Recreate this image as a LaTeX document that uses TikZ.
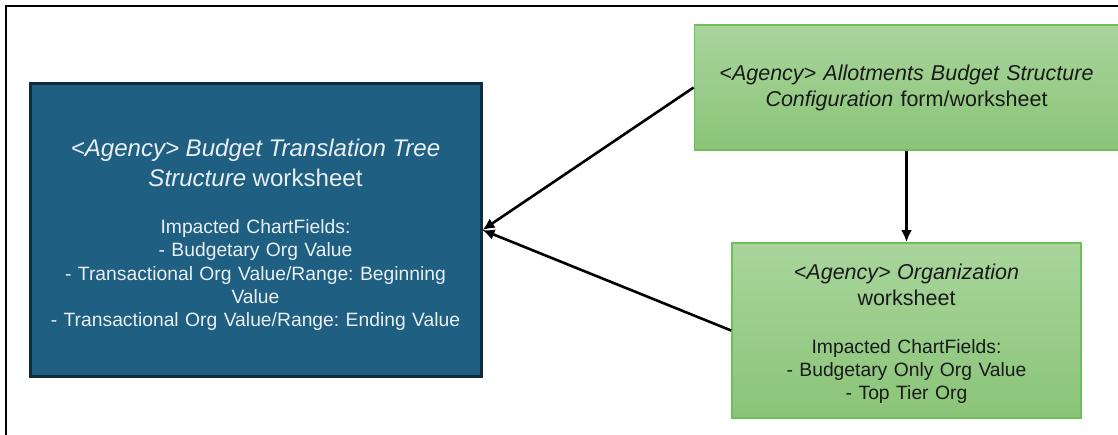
\documentclass[tikz,border=0pt]{standalone}
\usepackage{fontspec}
\setmainfont{Liberation Sans}
\usetikzlibrary{arrows.meta,positioning}
\frenchspacing

\definecolor{treeblue}{HTML}{1F5F82}
\definecolor{treeline}{HTML}{0F2F40}
\definecolor{treetext}{HTML}{E9EFF3}
\definecolor{greentop}{HTML}{A9D59C}
\definecolor{greenbot}{HTML}{8AC478}
\definecolor{greenline}{HTML}{6DBF57}
\definecolor{greentext}{HTML}{1A1A1A}

\begin{document}
\begin{tikzpicture}[x=1pt,y=1pt,
                    blue node/.style={rectangle, draw=treeline, line width=3pt, fill=treeblue,
                      text=treetext, inner sep=0pt, align=center,
                      font=\fontsize{19.3}{23.3}\selectfont},
                    green node/.style={rectangle, draw=greenline, line width=1.8pt,
                      top color=greentop, bottom color=greenbot, text=greentext,
                      inner sep=0pt, align=center, font=\fontsize{19.3}{23.3}\selectfont},
                    title/.style={font=\fontsize{21.5}{26}\selectfont},
                    link/.style={-{Latex[length=12pt,width=11pt]}, line width=2.6pt}]

  \useasboundingbox (0,0) rectangle (1118,434);
  \clip (0,0) rectangle (1118,434);

  %Frame%
  \draw[line width=2.6pt] (6,-20) rectangle (1140,428);

  %Worksheets%
  \node[blue node, minimum width=451pt, minimum height=292pt, text width=440pt] (tree) at (255.5,204)
    {{\fontsize{24.1}{30}\selectfont\rule{0pt}{27pt}\textit{<Agency> Budget Translation Tree}\\\textit{Structure} worksheet\par}
     \vspace{24pt}
     Impacted ChartFields:\\- Budgetary Org Value\\- Transactional Org Value/Range: Beginning\\Value\\- Transactional Org Value/Range: Ending Value};
  \node[green node, title, minimum width=424pt, minimum height=125pt, text width=415pt] (allot) at (906.5,346.5)
    {\textit{<Agency> Allotments Budget Structure}\\\textit{Configuration} form/worksheet};
  \node[green node, minimum width=349pt, minimum height=175pt, text width=340pt] (org) at (906.5,103.5)
    {{\fontsize{21.5}{26}\selectfont\rule{0pt}{22pt}\textit{<Agency> Organization}\\worksheet\par}
     \vspace{24.5pt}
     Impacted ChartFields:\\- Budgetary Only Org Value\\- Top Tier Org};

  \path[link]
    (allot.west) edge (tree.east)
    (allot)      edge (org)
    (org.west)   edge (tree.east);
\end{tikzpicture}
\end{document}
